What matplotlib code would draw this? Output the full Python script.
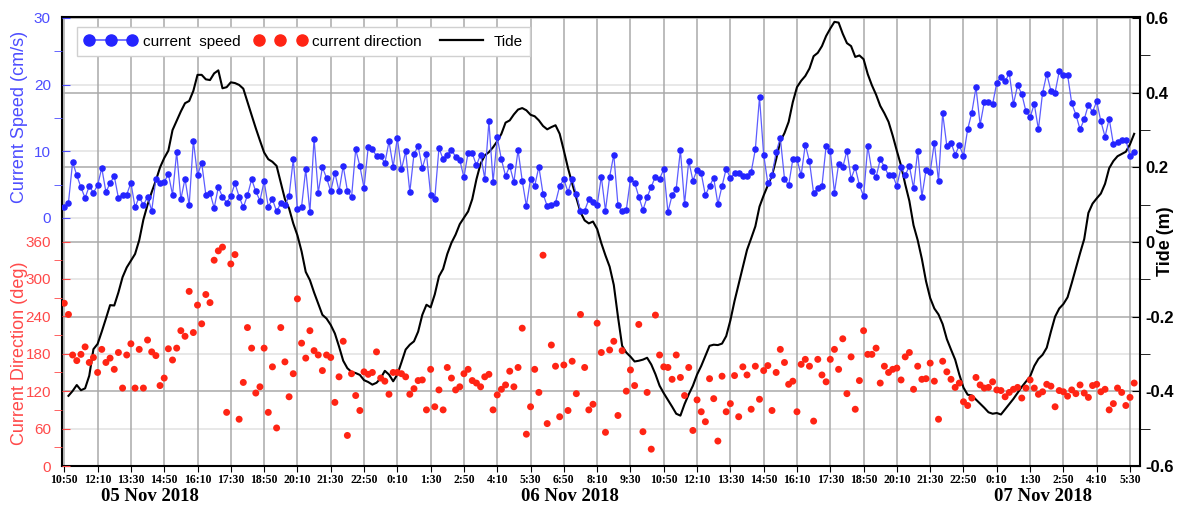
# -*- coding: utf-8 -*-
"""
Current speed / direction and tide, 05-07 Nov 2018.
"""

import matplotlib
matplotlib.use('Agg')
import matplotlib.pyplot as plt
import matplotlib.dates as mdates
import matplotlib.transforms as mtransforms
from matplotlib.lines import Line2D
import pandas as pd

plt.rcParams['font.family'] = ['Liberation Sans', 'DejaVu Sans']

#---  data (10 min samples from 05 Nov 2018 10:50)  ---
start = '2018-11-05 10:50'

speed = [
    1.7, 2.3, 8.4, 6.4, 4.6, 3.0, 4.8, 3.8, 4.9, 7.5,
    3.9, 5.2, 6.3, 3.0, 3.5, 3.5, 5.3, 1.6, 3.2, 1.9,
    3.2, 1.1, 5.8, 5.3, 5.4, 6.6, 3.5, 9.9, 2.8, 5.9,
    1.9, 11.6, 6.4, 8.3, 3.5, 3.8, 1.5, 4.6, 3.2, 2.3,
    3.3, 5.2, 3.2, 1.6, 3.4, 5.8, 4.0, 2.6, 5.5, 1.7,
    2.8, 1.0, 2.2, 1.9, 3.3, 8.8, 1.4, 1.7, 7.3, 0.9,
    11.9, 3.8, 7.6, 6.0, 4.0, 6.8, 4.0, 7.8, 4.1, 3.1,
    10.3, 7.8, 4.5, 10.6, 10.3, 9.3, 9.3, 8.2, 11.5, 7.7,
    12.0, 7.3, 10.0, 3.9, 9.6, 10.8, 7.5, 9.6, 3.5, 2.9,
    10.5, 8.8, 9.5, 10.2, 9.2, 8.7, 6.1, 9.8, 9.7, 7.9,
    9.5, 5.9, 14.5, 5.4, 12.1, 8.8, 6.3, 7.8, 5.4, 10.2,
    5.6, 1.8, 5.9, 4.8, 7.7, 3.6, 1.8, 1.9, 2.3, 4.8,
    5.8, 3.9, 5.9, 3.6, 1.0, 1.1, 2.8, 2.4, 1.9, 6.2,
    1.1, 6.2, 9.5, 1.9, 1.0, 1.2, 5.8, 5.3, 3.2, 1.2,
    3.1, 4.7, 6.2, 5.9, 7.3, 0.9, 3.4, 4.4, 10.2, 2.1,
    8.6, 5.6, 7.2, 6.7, 3.4, 4.8, 6.0, 2.1, 4.8, 7.4,
    6.0, 6.7, 6.8, 6.3, 6.3, 6.9, 10.3, 18.1, 9.5, 5.2,
    6.4, 9.9, 12.0, 5.9, 4.9, 8.8, 8.8, 6.4, 11.0, 8.5,
    3.7, 4.5, 4.8, 10.8, 10.1, 3.8, 8.1, 7.6, 10.1, 5.9,
    7.6, 4.9, 3.3, 10.8, 7.0, 6.1, 8.8, 7.7, 6.4, 6.4,
    4.8, 7.6, 6.4, 7.8, 4.5, 10.1, 3.2, 7.2, 6.9, 11.3,
    5.5, 15.7, 10.8, 11.3, 9.5, 10.9, 9.3, 13.3, 15.8, 19.6,
    14.0, 17.4, 17.4, 17.1, 20.3, 21.2, 20.5, 21.7, 17.1, 19.9,
    18.6, 16.0, 15.1, 17.1, 13.3, 18.8, 21.6, 19.1, 18.8, 22.0,
    21.5, 21.5, 17.2, 15.5, 13.3, 14.8, 17.0, 15.9, 17.5, 14.5,
    12.2, 14.9, 11.1, 11.4, 11.7, 11.7, 9.3, 9.9,
]

direction = [
    261, 243, 178, 169, 179, 191, 166, 174, 150, 187,
    166, 173, 155, 182, 125, 178, 196, 125, 187, 125,
    202, 183, 177, 129, 141, 188, 170, 189, 217, 208,
    280, 214, 258, 228, 275, 262, 330, 345, 351, 86,
    324, 339, 75, 134, 222, 189, 117, 127, 189, 86,
    159, 61, 222, 167, 111, 148, 268, 197, 173, 217,
    185, 178, 153, 178, 174, 102, 143, 200, 49, 148,
    113, 89, 151, 147, 150, 183, 141, 136, 115, 150,
    150, 148, 143, 115, 124, 137, 138, 90, 155, 95,
    122, 90, 158, 141, 122, 127, 148, 155, 137, 133,
    127, 143, 147, 90, 114, 123, 130, 152, 127, 158,
    221, 51, 95, 155, 118, 338, 68, 194, 160, 79,
    162, 89, 168, 116, 243, 158, 90, 99, 229, 182,
    54, 186, 200, 81, 185, 120, 154, 129, 227, 55,
    118, 27, 242, 178, 159, 158, 139, 178, 142, 113,
    158, 57, 106, 87, 71, 140, 108, 40, 144, 87,
    100, 145, 79, 159, 146, 91, 160, 107, 153, 161,
    89, 150, 187, 166, 131, 136, 87, 163, 171, 160,
    72, 171, 146, 135, 171, 187, 155, 204, 116, 175,
    91, 137, 217, 179, 179, 189, 133, 160, 150, 155,
    157, 138, 175, 182, 123, 160, 139, 140, 165, 136,
    75, 168, 151, 139, 126, 133, 103, 97, 109, 142,
    130, 125, 126, 135, 122, 121, 111, 118, 123, 126,
    109, 125, 138, 125, 115, 119, 131, 128, 95, 121,
    119, 112, 122, 116, 130, 117, 110, 129, 131, 119,
    123, 90, 100, 125, 118, 97, 110, 133,
]

# tide record starts 10 min later
tide_start = '2018-11-05 11:00'
tide = [
    -0.412, -0.399, -0.383, -0.397, -0.392, -0.358, -0.287, -0.273, -0.240, -0.205,
    -0.169, -0.170, -0.135, -0.094, -0.068, -0.050, -0.032, 0.005, 0.060, 0.100,
    0.134, 0.165, 0.200, 0.225, 0.245, 0.300, 0.325, 0.350, 0.372, 0.378,
    0.405, 0.448, 0.448, 0.436, 0.434, 0.452, 0.460, 0.412, 0.415, 0.428,
    0.426, 0.421, 0.411, 0.375, 0.340, 0.305, 0.272, 0.240, 0.222, 0.215,
    0.204, 0.160, 0.115, 0.090, 0.050, 0.018, -0.025, -0.080, -0.102, -0.135,
    -0.165, -0.195, -0.205, -0.222, -0.245, -0.280, -0.318, -0.338, -0.348, -0.351,
    -0.356, -0.370, -0.375, -0.382, -0.377, -0.365, -0.345, -0.355, -0.373, -0.355,
    -0.322, -0.288, -0.275, -0.266, -0.240, -0.195, -0.168, -0.175, -0.140, -0.092,
    -0.072, -0.032, -0.002, 0.020, 0.048, 0.065, 0.082, 0.115, 0.168, 0.210,
    0.232, 0.241, 0.254, 0.270, 0.290, 0.320, 0.326, 0.342, 0.355, 0.359,
    0.353, 0.341, 0.337, 0.326, 0.311, 0.302, 0.308, 0.313, 0.290, 0.245,
    0.198, 0.157, 0.118, 0.080, 0.058, 0.050, 0.055, 0.035, -0.003, -0.036,
    -0.066, -0.115, -0.200, -0.278, -0.296, -0.307, -0.320, -0.318, -0.315, -0.310,
    -0.328, -0.354, -0.385, -0.405, -0.423, -0.441, -0.460, -0.465, -0.434, -0.408,
    -0.385, -0.355, -0.332, -0.305, -0.278, -0.275, -0.276, -0.272, -0.252, -0.210,
    -0.158, -0.112, -0.065, -0.021, 0.010, 0.042, 0.095, 0.125, 0.152, 0.178,
    0.222, 0.270, 0.292, 0.322, 0.375, 0.415, 0.432, 0.445, 0.465, 0.498,
    0.507, 0.525, 0.552, 0.572, 0.590, 0.588, 0.558, 0.533, 0.525, 0.496,
    0.500, 0.490, 0.450, 0.420, 0.395, 0.365, 0.345, 0.322, 0.285, 0.244,
    0.205, 0.155, 0.110, 0.045, 0.005, -0.045, -0.105, -0.150, -0.178, -0.194,
    -0.220, -0.260, -0.288, -0.315, -0.355, -0.390, -0.409, -0.411, -0.422, -0.433,
    -0.444, -0.456, -0.460, -0.458, -0.462, -0.448, -0.434, -0.420, -0.404, -0.388,
    -0.374, -0.360, -0.332, -0.313, -0.302, -0.283, -0.240, -0.200, -0.178, -0.166,
    -0.148, -0.110, -0.070, -0.030, 0.008, 0.078, 0.103, 0.117, 0.130, 0.156,
    0.198, 0.217, 0.230, 0.236, 0.242, 0.262, 0.290,
]

speed_ticks = [0, 10, 20, 30]
speed_minor = [5, 15, 25]
dir_ticks = [0, 60, 120, 180, 240, 300, 360]
dir_minor = [30, 90, 150, 210, 270, 330]
tide_ticks = [-0.6, -0.4, -0.2, 0, 0.2, 0.4, 0.6]
tide_labels = ['-0.6', '-0.4', '-0.2', '0', '0.2', '0.4', '0.6']
tide_minor = [-0.5, -0.3, -0.1, 0.1, 0.3, 0.5]

date_labels = ['05 Nov 2018', '06 Nov 2018', '07 Nov 2018']
date_label_pos = ['2018-11-05 14:15', '2018-11-06 07:05', '2018-11-07 02:00']

times = pd.date_range(start, periods=len(speed), freq='10min')
tide_times = pd.date_range(tide_start, periods=len(tide), freq='10min')
tick_times = pd.date_range(start, '2018-11-07 05:30', freq='80min')
tick_labels = [f"{t.hour}:{t.minute:02d}" for t in tick_times]

BLUE = '#2424ff'
BLUE_LINE = '#5c5cff'
BLUE_TXT = '#4d4dff'
RED = '#ff2414'
RED_TXT = '#ff4a4a'

#--------------------------------------------
#---  figure and stacked axes             ---
fig = plt.figure(figsize=(11.8, 5.07), dpi=100)
ax_t = fig.add_axes([62/1180, 41/507, 1078/1180, 449/507])   # tide (right)
ax_d = ax_t.twinx()    # direction (left, lower half)
ax_s = ax_t.twinx()    # speed (left, upper half)
ax_t.yaxis.tick_right()
ax_t.yaxis.set_label_position('right')
for a in (ax_d, ax_s):
    a.yaxis.tick_left()
    a.yaxis.set_label_position('left')
    for sp in a.spines.values():
        sp.set_visible(False)
for sp in ax_t.spines.values():
    sp.set_linewidth(1.5)

ax_t.set_xlim(pd.Timestamp('2018-11-05 10:44:30'), pd.Timestamp('2018-11-07 05:54'))
ax_t.set_ylim(-0.6, 0.603)
ax_d.set_ylim(0, 720)
ax_s.set_ylim(-37.2, 30.15)

#---  grid  ---
ax_t.grid(which='major', color='#a9a9a9', lw=1.1, zorder=0)
ax_t.set_axisbelow(True)
blend_d = mtransforms.blended_transform_factory(ax_t.transAxes, ax_d.transData)
blend_s = mtransforms.blended_transform_factory(ax_t.transAxes, ax_s.transData)
for v in [60, 180, 300]:
    ax_t.add_line(Line2D([0, 1], [v, v], transform=blend_d, color='#e2e2e2', lw=1.1, zorder=0.5))
for v in [0, 10, 20]:
    ax_t.add_line(Line2D([0, 1], [v, v], transform=blend_s, color='#e2e2e2', lw=1.1, zorder=0.5))

#---  data  ---
ax_t.plot(tide_times, tide, color='black', lw=1.5, zorder=3)
ax_d.scatter(times, direction, s=25, color=RED, edgecolors='none', zorder=3)
ax_s.plot(times, speed, color=BLUE_LINE, lw=0.9, marker='o', ms=3.7,
          mfc=BLUE, mec=BLUE, zorder=3)

#---  ticks  ---
ax_t.set_xticks(tick_times)
ax_t.set_xticklabels(tick_labels, fontfamily='Liberation Serif', fontweight='bold', fontsize=8.5)
ax_t.tick_params(axis='x', direction='out', length=4, pad=2)

ax_t.set_yticks(tide_ticks)
ax_t.set_yticklabels(tide_labels, fontweight='bold', fontsize=12)
ax_t.set_yticks(tide_minor, minor=True)
ax_t.tick_params(axis='y', which='major', direction='in', length=6, pad=4)
ax_t.tick_params(axis='y', which='minor', direction='out', length=7)
ax_t.set_ylabel('Tide (m)', fontsize=13, fontweight='bold')
ax_t.yaxis.set_label_coords(1.016, 0.5)

ax_d.set_yticks(dir_ticks)
ax_d.set_yticks(dir_minor, minor=True)
ax_d.tick_params(axis='y', which='major', direction='in', length=6, colors=RED_TXT,
                 labelsize=11, pad=8)
ax_d.tick_params(axis='y', which='minor', direction='out', length=6, colors=RED_TXT)
ax_d.set_ylabel('Current Direction (deg)', color=RED_TXT, fontsize=13)
ax_d.yaxis.set_label_coords(-0.032, 0.252)

ax_s.set_yticks(speed_ticks)
ax_s.set_yticks(speed_minor, minor=True)
ax_s.tick_params(axis='y', which='major', direction='in', length=6, colors=BLUE_TXT,
                 labelsize=11, pad=8)
ax_s.tick_params(axis='y', which='minor', direction='out', length=6, colors=BLUE_TXT)
ax_s.set_ylabel('Current Speed (cm/s)', color=BLUE_TXT, fontsize=13)
ax_s.yaxis.set_label_coords(-0.032, 0.777)

#---  date labels under the time axis  ---
blend_x = mtransforms.blended_transform_factory(ax_t.transData, fig.transFigure)
for txt, pos in zip(date_labels, date_label_pos):
    ax_t.text(mdates.date2num(pd.Timestamp(pos)), 0.02, txt, transform=blend_x,
              ha='center', va='center', fontsize=13.5, fontweight='bold',
              fontfamily='Liberation Serif')

#---  legend  ---
h_s = Line2D([], [], color=BLUE_LINE, lw=1.2, marker='o', ms=8, mfc=BLUE, mec=BLUE)
h_d = Line2D([], [], ls='none', marker='o', ms=8, color=RED)
h_t = Line2D([], [], color='black', lw=1.6)
ax_s.legend([h_s, h_d, h_t], ['current  speed', 'current direction', 'Tide'],
            loc='upper left', bbox_to_anchor=(0.014, 0.978), borderaxespad=0,
            ncol=3, numpoints=3, fontsize=11, frameon=True, fancybox=False,
            edgecolor='#d0d0d0', framealpha=1, handlelength=3.4, handletextpad=0.4,
            columnspacing=0.9, borderpad=0.5)

plt.savefig('out.png', dpi=100)
